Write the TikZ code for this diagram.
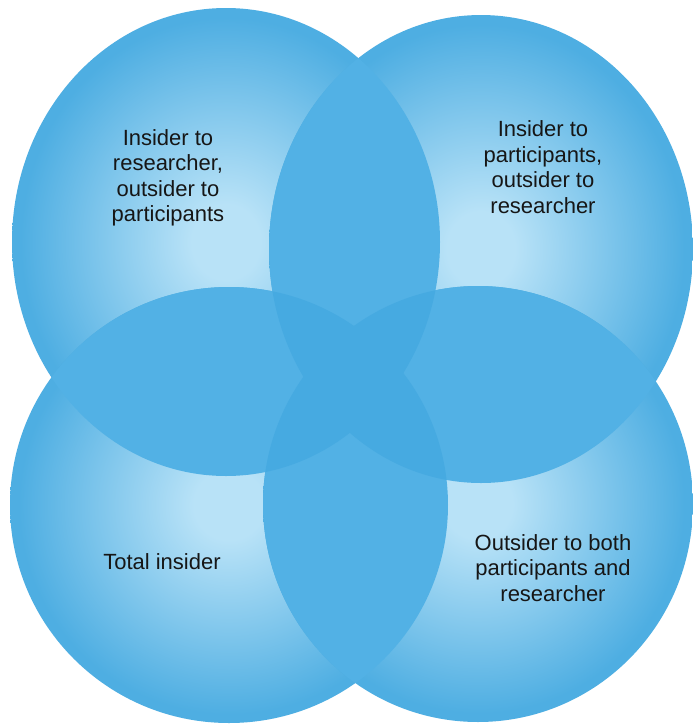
\documentclass[tikz,border=0pt]{standalone}
\usepackage{fontspec}
\setmainfont{Liberation Sans}
\usetikzlibrary{positioning}
\definecolor{bubbleedge}{RGB}{78,174,226}
\definecolor{bubblecore}{RGB}{184,226,247}
\definecolor{lensblue}{RGB}{82,177,229}
\definecolor{crossblue}{RGB}{70,170,225}
\definecolor{labelink}{RGB}{22,22,22}
\pgfdeclareradialshading{bubbleshade}{\pgfpoint{0bp}{0bp}}{color(0bp)=(bubblecore); color(4bp)=(bubblecore); color(24bp)=(bubbleedge); color(50bp)=(bubbleedge)}
\tikzset{
  bubble/.style={shading=bubbleshade, draw=none},
  bubblelabel/.style={text=labelink, align=center, font=\fontsize{22}{25.5}\selectfont}
}

\begin{document}
\begin{tikzpicture}[x=1pt, y=-1pt]
		%%%%% START %%%%%
		
		\fill[white] (0, 0) rectangle (693, 724);
		\useasboundingbox (0, 0) rectangle (693, 724);
		
		% the four circles
		\shade[bubble] (226, 242) ellipse [x radius=214, y radius=234];
		\shade[bubble] (481, 249) ellipse [x radius=212, y radius=234];
		\shade[bubble] (229, 505) ellipse [x radius=219, y radius=218];
		\shade[bubble] (478, 504) ellipse [x radius=215, y radius=218];
		
		% overlaps of neighbours
		\begin{scope}
			\clip (226, 242) ellipse [x radius=214, y radius=234];
			\fill[lensblue] (481, 249) ellipse [x radius=212, y radius=234];
			\fill[lensblue] (229, 505) ellipse [x radius=219, y radius=218];
		\end{scope}
		\begin{scope}
			\clip (478, 504) ellipse [x radius=215, y radius=218];
			\fill[lensblue] (481, 249) ellipse [x radius=212, y radius=234];
			\fill[lensblue] (229, 505) ellipse [x radius=219, y radius=218];
		\end{scope}
		
		% overlaps across
		\begin{scope}
			\clip (226, 242) ellipse [x radius=214, y radius=234];
			\fill[crossblue] (478, 504) ellipse [x radius=215, y radius=218];
		\end{scope}
		\begin{scope}
			\clip (481, 249) ellipse [x radius=212, y radius=234];
			\fill[crossblue] (229, 505) ellipse [x radius=219, y radius=218];
		\end{scope}
		
		% texts
		\node[bubblelabel] (insiderRes) at (168, 178) {Insider to\\researcher,\\outsider to\\participants};
		\node[bubblelabel] (insiderPart) at (543, 167) {Insider to\\participants,\\outsider to\\researcher};
		\node[bubblelabel] (totalIns) at (162, 562) {Total insider};
		\node[bubblelabel] (outsiderBoth) at (553, 568) {Outsider to both\\participants and\\researcher};
		
		%%%%% END %%%%%
\end{tikzpicture}
\end{document}
